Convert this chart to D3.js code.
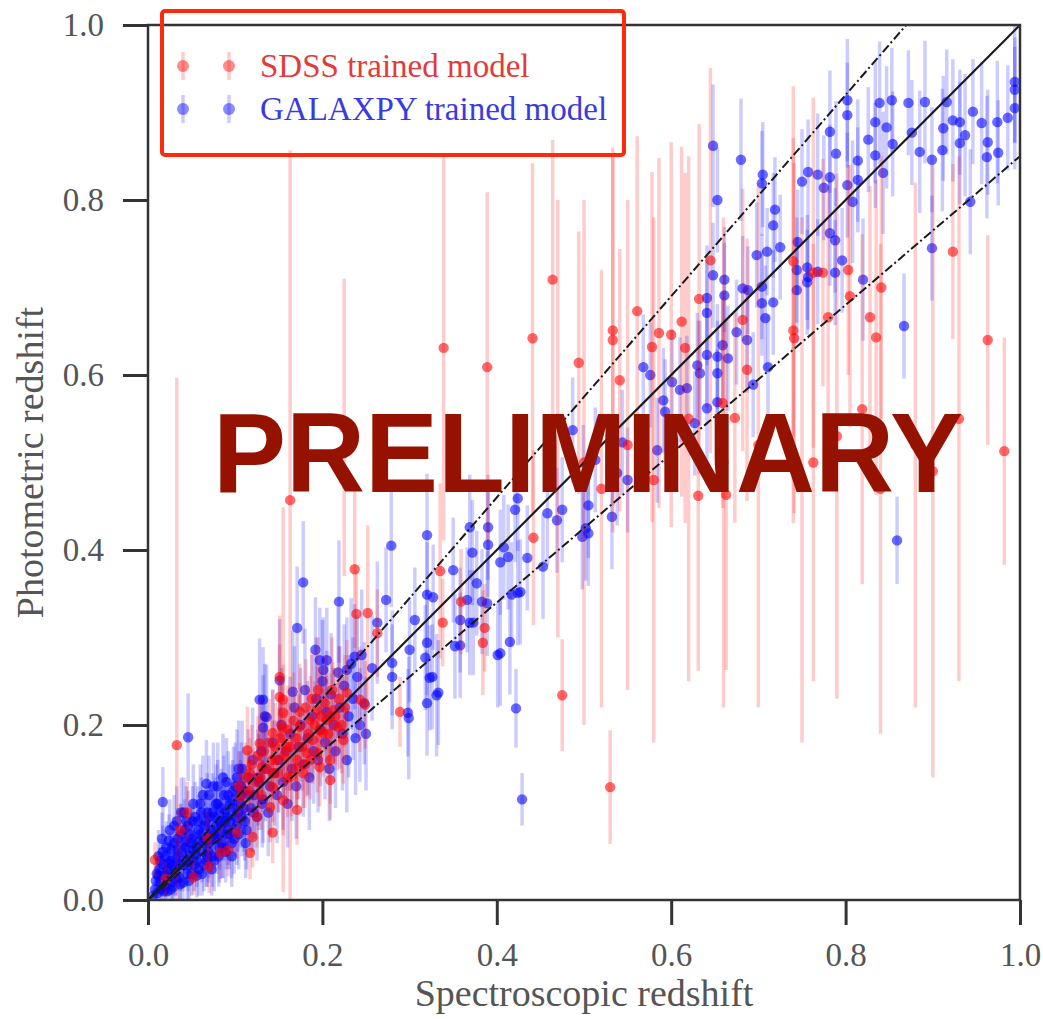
<!DOCTYPE html>
<html lang="en">
<head>
    <meta charset="UTF-8">
    <title>Photometric vs spectroscopic redshift</title>
    <script src="https://d3js.org/d3.v7.min.js"></script>
    <style>
        body {
            margin: 0;
            background: #fff;
        }
        .tick text {
            font-family: "Liberation Serif", serif;
            font-size: 33px;
            fill: #555;
        }
        .tick line {
            stroke: #333;
            stroke-width: 3;
        }
        .axisLabel {
            font-family: "Liberation Serif", serif;
            font-size: 38px;
            fill: #555;
        }
        .legendText {
            font-family: "Liberation Serif", serif;
            font-size: 33px;
        }
        .stamp {
            font-family: "Liberation Sans", Arial, sans-serif;
            font-weight: bold;
            font-size: 113px;
            fill: #951200;
        }
    </style>
</head>
<body>
<div id="chart"></div>
<script>
    // tick values for both axes
    var xTicks = [0.0, 0.2, 0.4, 0.6, 0.8, 1.0];
    var yTicks = [0.0, 0.2, 0.4, 0.6, 0.8, 1.0];

    // reference lines: slope of y = k * x
    var lineSlopes = [1.0, 1.15, 0.85];

    var seriesNames = ["SDSS trained model", "GALAXPY trained model"];

    // [z_spec, z_phot, err] (optional 4th = upper err)
    var sdss = [
        [0.033, 0.177, 0.42], [0.163, 0.457, 0.46, 0.40], [0.225, 0.54, 0.17], [0.155, 0.229, 0.22],
        [0.339, 0.631, 0.22], [0.389, 0.609, 0.2], [0.441, 0.642, 0.2], [0.464, 0.709, 0.16],
        [0.494, 0.614, 0.15], [0.237, 0.378, 0.09], [0.239, 0.327, 0.05], [0.252, 0.328, 0.1],
        [0.335, 0.376, 0.1], [0.338, 0.317, 0.05], [0.386, 0.311, 0.05], [0.384, 0.294, 0.06],
        [0.475, 0.234, 0.064], [0.53, 0.129, 0.065], [0.359, 0.341, 0.06], [0.442, 0.414, 0.1],
        [0.289, 0.215, 0.04], [0.561, 0.673, 0.2], [0.533, 0.651, 0.2], [0.533, 0.64, 0.22],
        [0.586, 0.648, 0.2], [0.6, 0.646, 0.22], [0.578, 0.632, 0.2], [0.612, 0.661, 0.2],
        [0.616, 0.631, 0.2], [0.541, 0.594, 0.15], [0.632, 0.687, 0.2], [0.645, 0.731, 0.22],
        [0.74, 0.73, 0.2], [0.74, 0.651, 0.22], [0.741, 0.642, 0.2], [0.763, 0.717, 0.2],
        [0.687, 0.606, 0.15], [0.659, 0.568, 0.12], [0.673, 0.551, 0.12], [0.631, 0.462, 0.2],
        [0.763, 0.5, 0.25], [0.682, 0.663, 0.15], [0.923, 0.741, 0.1], [0.963, 0.64, 0.12],
        [0.982, 0.513, 0.13], [0.835, 0.643, 0.18], [0.819, 0.561, 0.2], [0.841, 0.70, 0.15],
        [0.803, 0.72, 0.12], [0.774, 0.717, 0.13], [0.663, 0.463, 0.2], [0.828, 0.666, 0.15],
        [0.805, 0.69, 0.15], [0.78, 0.666, 0.15],
        [0.5, 0.5, 0.3], [0.55, 0.52, 0.28], [0.58, 0.48, 0.3], [0.62, 0.55, 0.3],
        [0.66, 0.5, 0.28], [0.7, 0.52, 0.3], [0.75, 0.48, 0.3], [0.79, 0.53, 0.3],
        [0.84, 0.47, 0.28], [0.88, 0.52, 0.3], [0.9, 0.49, 0.35], [0.93, 0.55, 0.3],
        [0.47, 0.55, 0.25], [0.52, 0.47, 0.25],
        [0.263, 0.305, 0.05], [0.151, 0.255, 0.07],
        [0.008, 0.046, 0.02], [0.02, 0.024, 0.02], [0.037, 0.08, 0.03], [0.052, 0.026, 0.02],
        [0.07, 0.038, 0.03], [0.092, 0.057, 0.03], [0.045, 0.1, 0.035],
        [0.106, 0.118, 0.035],
        [0.117, 0.145, 0.04], [0.131, 0.152, 0.04], [0.143, 0.129, 0.04],
        [0.148, 0.16, 0.045], [0.159, 0.175, 0.05], [0.171, 0.16, 0.045], [0.182, 0.168, 0.05],
        [0.189, 0.183, 0.05], [0.197, 0.194, 0.05], [0.205, 0.206, 0.05], [0.212, 0.217, 0.055],
        [0.186, 0.206, 0.05], [0.174, 0.198, 0.05], [0.165, 0.141, 0.045], [0.14, 0.106, 0.04],
        [0.12, 0.072, 0.035], [0.151, 0.232, 0.06], [0.155, 0.214, 0.055], [0.143, 0.191, 0.05],
        [0.128, 0.179, 0.05], [0.114, 0.171, 0.05], [0.197, 0.152, 0.045], [0.209, 0.137, 0.045],
        [0.143, 0.077, 0.035], [0.117, 0.054, 0.03],
        [0.194, 0.217, 0.05], [0.209, 0.209, 0.05], [0.217, 0.198, 0.05], [0.224, 0.183, 0.05],
        [0.201, 0.191, 0.05], [0.194, 0.168, 0.045], [0.186, 0.16, 0.045], [0.209, 0.16, 0.05],
        [0.178, 0.145, 0.04], [0.143, 0.145, 0.04], [0.155, 0.114, 0.04], [0.243, 0.229, 0.06],
        [0.249, 0.223, 0.05], [0.228, 0.237, 0.06], [0.154, 0.197, 0.05], [0.171, 0.103, 0.04],
        [0.125, 0.095, 0.035], [0.068, 0.071, 0.03], [0.083, 0.054, 0.03], [0.102, 0.077, 0.03],
        [0.104, 0.13, 0.04], [0.112, 0.14, 0.04],
        [0.116, 0.125, 0.04], [0.119, 0.155, 0.045], [0.123, 0.135, 0.04], [0.126, 0.165, 0.045],
        [0.129, 0.14, 0.04], [0.133, 0.17, 0.045], [0.136, 0.15, 0.045], [0.139, 0.18, 0.05],
        [0.142, 0.16, 0.045], [0.146, 0.175, 0.05], [0.149, 0.145, 0.045], [0.152, 0.185, 0.05],
        [0.156, 0.165, 0.05], [0.16, 0.195, 0.05], [0.163, 0.175, 0.05], [0.167, 0.205, 0.055],
        [0.17, 0.185, 0.05], [0.174, 0.215, 0.055], [0.177, 0.175, 0.05], [0.181, 0.22, 0.055],
        [0.184, 0.19, 0.05], [0.188, 0.23, 0.055], [0.191, 0.2, 0.05], [0.195, 0.24, 0.06],
        [0.199, 0.21, 0.055], [0.203, 0.225, 0.055], [0.207, 0.19, 0.05], [0.211, 0.24, 0.06],
        [0.215, 0.21, 0.055], [0.219, 0.23, 0.06], [0.222, 0.2, 0.055], [0.226, 0.22, 0.06],
        [0.13, 0.12, 0.04], [0.16, 0.14, 0.045], [0.17, 0.15, 0.045], [0.18, 0.155, 0.05]
    ];

    var galaxpy = [
        // high redshift
        [0.648, 0.862, 0.07], [0.68, 0.846, 0.07], [0.653, 0.8, 0.06], [0.705, 0.829, 0.06],
        [0.704, 0.819, 0.06], [0.717, 0.771, 0.06], [0.698, 0.737, 0.06], [0.71, 0.741, 0.05],
        [0.725, 0.746, 0.06], [0.648, 0.714, 0.06], [0.661, 0.709, 0.06], [0.75, 0.821, 0.06],
        [0.757, 0.832, 0.06], [0.768, 0.829, 0.07], [0.775, 0.814, 0.06], [0.782, 0.878, 0.07],
        [0.789, 0.853, 0.06], [0.802, 0.914, 0.07], [0.802, 0.897, 0.06], [0.814, 0.845, 0.07],
        [0.814, 0.823, 0.06], [0.802, 0.817, 0.06], [0.808, 0.798, 0.07], [0.782, 0.762, 0.06],
        [0.788, 0.754, 0.06], [0.756, 0.723, 0.06], [0.796, 0.731, 0.06], [0.82, 0.709, 0.07],
        [0.834, 0.889, 0.07], [0.826, 0.869, 0.06], [0.839, 0.911, 0.07], [0.853, 0.914, 0.06],
        [0.847, 0.883, 0.07], [0.854, 0.864, 0.06], [0.843, 0.831, 0.07], [0.834, 0.851, 0.06],
        [0.872, 0.911, 0.06], [0.891, 0.912, 0.07], [0.876, 0.877, 0.06], [0.885, 0.855, 0.07],
        [0.899, 0.846, 0.06], [0.911, 0.857, 0.07], [0.912, 0.882, 0.06], [0.923, 0.891, 0.07],
        [0.931, 0.889, 0.06], [0.937, 0.874, 0.07], [0.946, 0.901, 0.06], [0.956, 0.888, 0.07],
        [0.963, 0.866, 0.06], [0.962, 0.849, 0.07], [0.975, 0.854, 0.06], [0.974, 0.889, 0.07],
        [0.986, 0.894, 0.06], [0.994, 0.905, 0.07], [0.994, 0.926, 0.06], [0.994, 0.935, 0.07],
        [0.916, 0.912, 0.06], [0.931, 0.865, 0.07], [0.943, 0.798, 0.06], [0.899, 0.745, 0.06],
        [0.719, 0.789, 0.06], [0.745, 0.752, 0.06], [0.744, 0.72, 0.06], [0.757, 0.712, 0.06],
        [0.788, 0.717, 0.06], [0.782, 0.826, 0.06], [0.859, 0.411, 0.05], [0.867, 0.656, 0.06],
        // middle redshift
        [0.661, 0.691, 0.06], [0.641, 0.688, 0.06], [0.641, 0.671, 0.06], [0.682, 0.699, 0.06],
        [0.688, 0.697, 0.05], [0.704, 0.701, 0.06], [0.704, 0.682, 0.06], [0.717, 0.683, 0.06],
        [0.708, 0.665, 0.06], [0.675, 0.649, 0.06], [0.687, 0.64, 0.06], [0.659, 0.634, 0.06],
        [0.641, 0.623, 0.06], [0.653, 0.621, 0.06], [0.665, 0.619, 0.06], [0.653, 0.602, 0.06],
        [0.63, 0.611, 0.06], [0.633, 0.602, 0.06], [0.568, 0.609, 0.06], [0.576, 0.6, 0.06],
        [0.601, 0.592, 0.06], [0.61, 0.583, 0.06], [0.618, 0.585, 0.06], [0.591, 0.571, 0.06],
        [0.593, 0.558, 0.06], [0.641, 0.562, 0.06], [0.653, 0.569, 0.06], [0.694, 0.589, 0.06],
        [0.711, 0.609, 0.06], [0.744, 0.697, 0.06], [0.756, 0.706, 0.06], [0.768, 0.718, 0.06],
        [0.627, 0.545, 0.06], [0.584, 0.514, 0.06], [0.544, 0.523, 0.06], [0.55, 0.48, 0.06],
        [0.538, 0.488, 0.06], [0.513, 0.503, 0.06], [0.505, 0.451, 0.06], [0.505, 0.419, 0.06],
        [0.532, 0.438, 0.06], [0.499, 0.483, 0.06], [0.487, 0.537, 0.06], [0.498, 0.415, 0.06],
        [0.502, 0.425, 0.06], [0.458, 0.442, 0.06], [0.475, 0.446, 0.06], [0.469, 0.434, 0.06],
        [0.424, 0.459, 0.06], [0.421, 0.446, 0.06], [0.39, 0.426, 0.06], [0.369, 0.426, 0.06],
        [0.408, 0.403, 0.06], [0.413, 0.392, 0.06], [0.404, 0.386, 0.06], [0.435, 0.391, 0.06],
        [0.453, 0.381, 0.06], [0.424, 0.351, 0.06], [0.39, 0.406, 0.06], [0.372, 0.397, 0.06],
        [0.35, 0.377, 0.06], [0.32, 0.417, 0.07], [0.279, 0.405, 0.07], [0.178, 0.363, 0.07],
        [0.219, 0.341, 0.07], [0.273, 0.343, 0.06], [0.32, 0.349, 0.06], [0.358, 0.32, 0.06],
        [0.366, 0.343, 0.06], [0.383, 0.341, 0.06], [0.373, 0.317, 0.06], [0.358, 0.291, 0.06],
        [0.352, 0.29, 0.06], [0.32, 0.294, 0.06], [0.3, 0.286, 0.06], [0.318, 0.277, 0.06],
        [0.28, 0.271, 0.06], [0.28, 0.255, 0.06], [0.257, 0.265, 0.06], [0.263, 0.317, 0.07],
        [0.323, 0.254, 0.06], [0.331, 0.234, 0.07], [0.32, 0.225, 0.06], [0.415, 0.295, 0.06],
        [0.404, 0.282, 0.06], [0.422, 0.219, 0.045], [0.298, 0.214, 0.05], [0.201, 0.263, 0.06],
        [0.192, 0.286, 0.06], [0.237, 0.278, 0.06], [0.228, 0.263, 0.06], [0.197, 0.274, 0.06],
        [0.306, 0.32, 0.06], [0.299, 0.208, 0.07], [0.333, 0.237, 0.06], [0.326, 0.255, 0.06],
        [0.369, 0.317, 0.06], [0.377, 0.362, 0.06], [0.389, 0.339, 0.06], [0.401, 0.28, 0.06],
        [0.417, 0.349, 0.06], [0.427, 0.352, 0.06], [0.327, 0.346, 0.06], [0.429, 0.115, 0.03],
        // low redshift
        [0.046, 0.186, 0.05], [0.067, 0.133, 0.05], [0.017, 0.112, 0.04], [0.171, 0.311, 0.07],
        [0.205, 0.274, 0.06], [0.132, 0.229, 0.06], [0.136, 0.209, 0.06],
        [0.128, 0.229, 0.07], [0.134, 0.21, 0.06], [0.151, 0.251, 0.07], [0.132, 0.197, 0.06],
        [0.166, 0.238, 0.07],
        [0.008, 0.012, 0.02], [0.01, 0.03, 0.025], [0.012, 0.05, 0.03], [0.014, 0.02, 0.02],
        [0.016, 0.07, 0.03], [0.018, 0.04, 0.03], [0.02, 0.015, 0.02], [0.021, 0.06, 0.03],
        [0.023, 0.03, 0.025], [0.025, 0.08, 0.035], [0.026, 0.045, 0.03], [0.028, 0.02, 0.02],
        [0.03, 0.065, 0.03], [0.031, 0.035, 0.03], [0.033, 0.09, 0.04], [0.035, 0.05, 0.03],
        [0.036, 0.025, 0.025], [0.038, 0.075, 0.035], [0.04, 0.04, 0.03], [0.041, 0.1, 0.04],
        [0.043, 0.06, 0.03], [0.045, 0.03, 0.03], [0.046, 0.085, 0.04], [0.048, 0.05, 0.03],
        [0.05, 0.07, 0.035], [0.052, 0.11, 0.045], [0.053, 0.04, 0.03], [0.055, 0.06, 0.035],
        [0.057, 0.09, 0.04], [0.058, 0.035, 0.03], [0.06, 0.075, 0.04], [0.062, 0.055, 0.035],
        [0.063, 0.12, 0.045], [0.065, 0.085, 0.04], [0.067, 0.045, 0.03], [0.068, 0.1, 0.045],
        [0.07, 0.065, 0.04], [0.072, 0.08, 0.04], [0.074, 0.05, 0.035], [0.075, 0.13, 0.05],
        [0.077, 0.095, 0.045], [0.079, 0.07, 0.04], [0.08, 0.11, 0.05], [0.082, 0.06, 0.04],
        [0.084, 0.085, 0.04], [0.086, 0.14, 0.05], [0.088, 0.1, 0.045], [0.09, 0.075, 0.04],
        [0.092, 0.12, 0.05], [0.094, 0.09, 0.045], [0.096, 0.065, 0.04], [0.098, 0.105, 0.05],
        [0.1, 0.13, 0.05], [0.102, 0.085, 0.045], [0.104, 0.15, 0.055], [0.106, 0.11, 0.05],
        [0.108, 0.095, 0.045], [0.11, 0.125, 0.05], [0.113, 0.08, 0.045], [0.115, 0.14, 0.055],
        [0.118, 0.105, 0.05], [0.12, 0.16, 0.06], [0.122, 0.12, 0.05], [0.125, 0.095, 0.05],
        [0.127, 0.135, 0.055], [0.13, 0.17, 0.06], [0.132, 0.115, 0.05], [0.135, 0.15, 0.06],
        [0.138, 0.1, 0.05], [0.14, 0.13, 0.055], [0.143, 0.18, 0.06], [0.145, 0.145, 0.06],
        [0.148, 0.12, 0.055], [0.15, 0.16, 0.06], [0.153, 0.2, 0.065], [0.155, 0.135, 0.055],
        [0.158, 0.17, 0.06], [0.16, 0.11, 0.05], [0.163, 0.19, 0.065], [0.165, 0.15, 0.06],
        [0.168, 0.22, 0.07], [0.17, 0.13, 0.06], [0.173, 0.175, 0.06], [0.175, 0.2, 0.065],
        [0.178, 0.155, 0.06], [0.18, 0.24, 0.07], [0.183, 0.185, 0.065], [0.185, 0.14, 0.06],
        [0.188, 0.21, 0.07], [0.19, 0.17, 0.06], [0.193, 0.23, 0.07], [0.195, 0.16, 0.06],
        [0.198, 0.195, 0.065], [0.2, 0.25, 0.07], [0.203, 0.18, 0.065], [0.205, 0.215, 0.07],
        [0.208, 0.15, 0.06], [0.21, 0.235, 0.07], [0.213, 0.2, 0.065], [0.215, 0.17, 0.065],
        [0.218, 0.26, 0.075], [0.22, 0.22, 0.07], [0.223, 0.19, 0.065], [0.225, 0.245, 0.07],
        [0.228, 0.16, 0.06], [0.23, 0.21, 0.07], [0.233, 0.27, 0.075], [0.235, 0.23, 0.07],
        [0.238, 0.185, 0.065], [0.24, 0.255, 0.07], [0.243, 0.2, 0.065], [0.245, 0.28, 0.075],
        [0.248, 0.225, 0.07], [0.25, 0.19, 0.065],
        [0.006, 0.005, 0.015], [0.009, 0.022, 0.02], [0.011, 0.008, 0.015], [0.013, 0.035, 0.025],
        [0.015, 0.012, 0.02], [0.017, 0.055, 0.03], [0.019, 0.028, 0.02], [0.022, 0.01, 0.015],
        [0.024, 0.042, 0.025], [0.027, 0.058, 0.03], [0.029, 0.015, 0.02], [0.032, 0.048, 0.03],
        [0.034, 0.07, 0.035], [0.037, 0.018, 0.02], [0.039, 0.055, 0.03], [0.042, 0.08, 0.035],
        [0.044, 0.045, 0.03], [0.047, 0.022, 0.025], [0.049, 0.065, 0.035], [0.051, 0.09, 0.04],
        [0.054, 0.052, 0.03], [0.056, 0.028, 0.025], [0.059, 0.068, 0.035], [0.061, 0.1, 0.04],
        [0.064, 0.04, 0.03], [0.066, 0.07, 0.035], [0.069, 0.055, 0.035], [0.071, 0.095, 0.04],
        [0.073, 0.035, 0.03], [0.076, 0.075, 0.04], [0.078, 0.11, 0.045], [0.081, 0.05, 0.035],
        [0.083, 0.09, 0.04], [0.085, 0.065, 0.04], [0.087, 0.12, 0.045], [0.089, 0.055, 0.035],
        [0.091, 0.095, 0.045], [0.093, 0.075, 0.04], [0.097, 0.115, 0.045], [0.099, 0.07, 0.04],
        [0.103, 0.1, 0.045], [0.107, 0.13, 0.05], [0.111, 0.09, 0.045], [0.116, 0.12, 0.05],
        [0.121, 0.1, 0.045], [0.126, 0.14, 0.055], [0.131, 0.11, 0.05],
        [0.012, 0.028, 0.02], [0.014, 0.045, 0.025], [0.018, 0.01, 0.015], [0.02, 0.05, 0.03],
        [0.022, 0.035, 0.025], [0.024, 0.068, 0.03], [0.026, 0.012, 0.02], [0.028, 0.04, 0.025],
        [0.03, 0.085, 0.035], [0.032, 0.025, 0.02], [0.034, 0.058, 0.03], [0.036, 0.04, 0.03],
        [0.038, 0.1, 0.04], [0.04, 0.02, 0.02], [0.042, 0.066, 0.03], [0.044, 0.09, 0.04],
        [0.046, 0.04, 0.03], [0.048, 0.075, 0.035], [0.05, 0.03, 0.025], [0.052, 0.058, 0.03],
        [0.054, 0.095, 0.04], [0.056, 0.045, 0.03], [0.058, 0.08, 0.04], [0.06, 0.11, 0.045],
        [0.062, 0.03, 0.025], [0.064, 0.065, 0.035], [0.066, 0.09, 0.04], [0.068, 0.05, 0.035],
        [0.07, 0.12, 0.045], [0.072, 0.07, 0.04], [0.074, 0.1, 0.045], [0.076, 0.045, 0.035],
        [0.078, 0.085, 0.04], [0.08, 0.13, 0.05], [0.082, 0.075, 0.04], [0.084, 0.105, 0.045],
        [0.086, 0.06, 0.035], [0.088, 0.09, 0.045], [0.09, 0.135, 0.05], [0.092, 0.08, 0.04],
        [0.094, 0.11, 0.045], [0.096, 0.05, 0.035], [0.098, 0.125, 0.05], [0.1, 0.095, 0.045],
        [0.102, 0.14, 0.055], [0.104, 0.075, 0.04], [0.106, 0.12, 0.05], [0.108, 0.15, 0.055],
        [0.11, 0.105, 0.05], [0.112, 0.065, 0.04]
    ];

    // layout
    var margin = {top: 25, right: 23, bottom: 119, left: 148},
        width = 1043 - margin.left - margin.right,
        height = 1019 - margin.top - margin.bottom;

    var svg = d3.select("#chart")
        .append("svg")
        .attr("width", 1043)
        .attr("height", 1019);

    var g = svg.append("g")
        .attr("transform", "translate(" + margin.left + "," + margin.top + ")");

    var x = d3.scaleLinear().domain([0, 1]).range([0, width]);
    var y = d3.scaleLinear().domain([0, 1]).range([height, 0]);

    g.append("clipPath")
        .attr("id", "plotClip")
        .append("rect")
        .attr("width", width)
        .attr("height", height);

    var plot = g.append("g").attr("clip-path", "url(#plotClip)");

    // one errorbar series: bars then markers
    function drawSeries(data, color) {
        var s = plot.append("g");
        s.selectAll("line")
            .data(data)
            .enter().append("line")
            .attr("x1", function(d) { return x(d[0]); })
            .attr("x2", function(d) { return x(d[0]); })
            .attr("y1", function(d) { return y(d[1] - d[2]); })
            .attr("y2", function(d) { return y(d[1] + (d.length > 3 ? d[3] : d[2])); })
            .style("stroke", color)
            .style("stroke-opacity", 0.2)
            .style("stroke-width", 3.5);
        s.selectAll("circle")
            .data(data)
            .enter().append("circle")
            .attr("cx", function(d) { return x(d[0]); })
            .attr("cy", function(d) { return y(d[1]); })
            .attr("r", 5.2)
            .style("fill", color)
            .style("fill-opacity", 0.58);
    }

    // blue underneath so the red clump stays visible
    drawSeries(galaxpy, "#0000ff");
    drawSeries(sdss, "#ff0000");

    // y = x and the +-15% lines
    lineSlopes.forEach(function(k) {
        var x1 = Math.min(1, 1 / k);
        plot.append("line")
            .attr("x1", x(0)).attr("y1", y(0))
            .attr("x2", x(x1)).attr("y2", y(k * x1))
            .style("stroke", "#1a1a1a")
            .style("stroke-width", k === 1 ? 2.2 : 2)
            .style("stroke-dasharray", k === 1 ? null : "9,3,2,3");
    });

    // axes
    var xAxis = g.append("g")
        .attr("transform", "translate(0," + height + ")")
        .call(d3.axisBottom(x).tickValues(xTicks).tickFormat(d3.format(".1f"))
            .tickSize(25).tickSizeOuter(0).tickPadding(18));
    var yAxis = g.append("g")
        .call(d3.axisLeft(y).tickValues(yTicks).tickFormat(d3.format(".1f"))
            .tickSize(25).tickSizeOuter(0).tickPadding(19));
    xAxis.select(".domain").remove();
    yAxis.select(".domain").remove();

    // frame
    g.append("rect")
        .attr("width", width)
        .attr("height", height)
        .style("fill", "none")
        .style("stroke", "#333")
        .style("stroke-width", 2.5);

    g.append("text")
        .attr("class", "axisLabel")
        .attr("text-anchor", "middle")
        .attr("x", width / 2)
        .attr("y", height + 106)
        .text("Spectroscopic redshift");

    g.append("text")
        .attr("class", "axisLabel")
        .attr("text-anchor", "middle")
        .attr("transform", "rotate(-90)")
        .attr("x", -height / 2)
        .attr("y", -105)
        .text("Photometric redshift");

    // legend
    var legendColors = ["#ff0000", "#0000ff"];
    var legendText = ["#e33a3a", "#3a3ae3"];
    var legend = g.append("g").attr("transform", "translate(35, 41)");
    seriesNames.forEach(function(name, i) {
        var row = legend.append("g").attr("transform", "translate(0," + (i * 43) + ")");
        [0, 46].forEach(function(dx) {
            row.append("line")
                .attr("x1", dx).attr("x2", dx)
                .attr("y1", -14).attr("y2", 14)
                .style("stroke", legendColors[i])
                .style("stroke-opacity", 0.2)
                .style("stroke-width", 3.5);
            row.append("circle")
                .attr("cx", dx).attr("cy", 0).attr("r", 6)
                .style("fill", legendColors[i])
                .style("fill-opacity", 0.45);
        });
        row.append("text")
            .attr("class", "legendText")
            .attr("x", 77)
            .attr("y", 11)
            .style("fill", legendText[i])
            .text(name);
    });

    // overlay stamp and highlight box
    svg.append("text")
        .attr("class", "stamp")
        .attr("x", 213)
        .attr("y", 492)
        .attr("textLength", 750)
        .attr("lengthAdjust", "spacingAndGlyphs")
        .text("PRELIMINARY");

    svg.append("rect")
        .attr("x", 162)
        .attr("y", 11)
        .attr("width", 462)
        .attr("height", 144)
        .attr("rx", 3)
        .style("fill", "none")
        .style("stroke", "#fe2a0b")
        .style("stroke-width", 4);
</script>
</body>
</html>
